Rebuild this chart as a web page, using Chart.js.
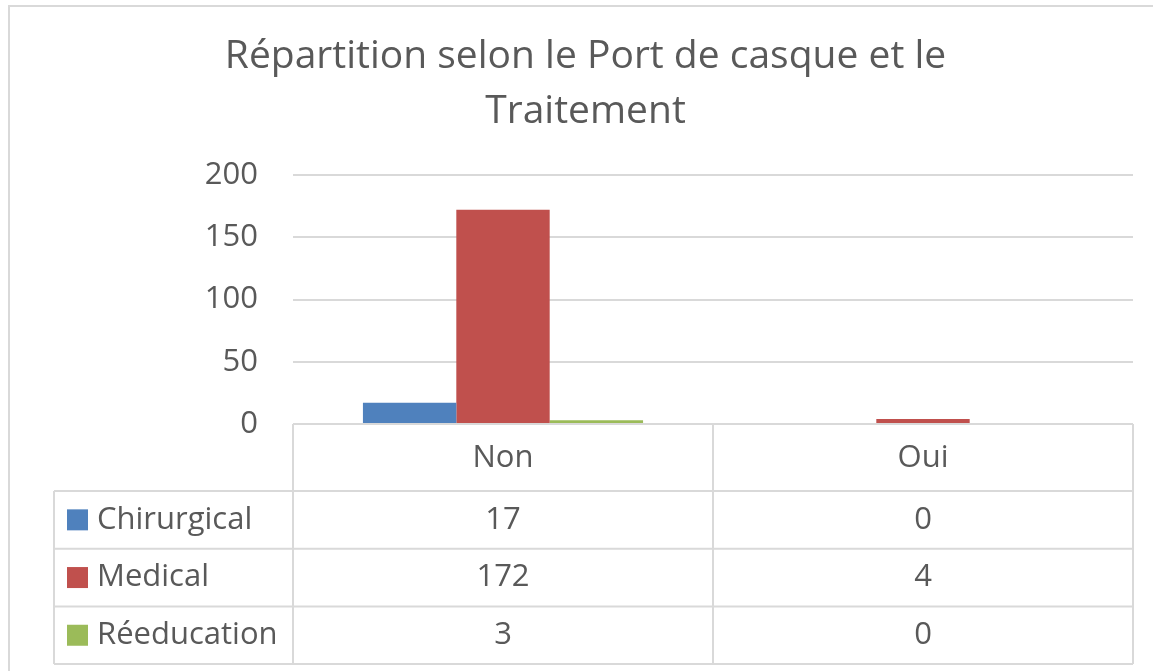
<!DOCTYPE html>
<html lang="fr">
<head>
<meta charset="utf-8">
<title>Répartition selon le Port de casque et le Traitement</title>
<script src="https://cdn.jsdelivr.net/npm/chart.js@4.4.0/dist/chart.umd.min.js"></script>
<style>
    html, body { margin: 0; padding: 0; background: #ffffff; }
    #wrap { width: 1153px; height: 671px; position: relative; }
</style>
</head>
<body>
<div id="wrap"><canvas id="chart"></canvas></div>
<script>
// Chart data
const titleLines = ['Répartition selon le Port de casque et le', 'Traitement'];
const categories = ['Non', 'Oui'];
const seriesNames = ['Chirurgical', 'Medical', 'Réeducation'];
const chirurgicalValues = [17, 0];
const medicalValues = [172, 4];
const reeducationValues = [3, 0];
const yTicks = [0, 50, 100, 150, 200];

const seriesColors = ['#4F81BD', '#C0504D', '#9BBB59'];
const textColor = '#595959';
const lineColor = '#d9d9d9';
const fontFamily = '"Open Sans", "DejaVu Sans", sans-serif';

// Draws the outer frame of the chart
const framePlugin = {
    id: 'frame',
    beforeDraw(chart) {
        const ctx = chart.ctx;
        ctx.save();
        ctx.strokeStyle = lineColor;
        ctx.lineWidth = 2;
        ctx.strokeRect(9, 6, chart.width + 20, chart.height + 20);
        ctx.restore();
    }
};

// Draws the data table under the plot (Excel style)
const dataTablePlugin = {
    id: 'dataTable',
    afterDraw(chart) {
        const ctx = chart.ctx;
        const area = chart.chartArea;
        const xScale = chart.scales.x;
        const colWidth = (area.right - area.left) / categories.length;
        const headerBottom = area.bottom + 67;
        const rowHeight = 57.7;
        const tableBottom = headerBottom + rowHeight * seriesNames.length;
        const tableLeft = 54;

        ctx.save();
        ctx.strokeStyle = lineColor;
        ctx.lineWidth = 2;
        ctx.beginPath();
        // header top line (axis line)
        ctx.moveTo(area.left, area.bottom);
        ctx.lineTo(area.right, area.bottom);
        // header left line
        ctx.moveTo(area.left, area.bottom);
        ctx.lineTo(area.left, tableBottom);
        // column dividers and right edge
        for (let i = 1; i <= categories.length; i++) {
            const x = area.left + colWidth * i;
            ctx.moveTo(x, area.bottom);
            ctx.lineTo(x, tableBottom);
        }
        // row lines
        for (let r = 0; r <= seriesNames.length; r++) {
            const y = headerBottom + rowHeight * r;
            ctx.moveTo(tableLeft, y);
            ctx.lineTo(area.right, y);
        }
        // left edge of series rows
        ctx.moveTo(tableLeft, headerBottom);
        ctx.lineTo(tableLeft, tableBottom);
        ctx.stroke();

        ctx.fillStyle = textColor;
        ctx.font = '31px ' + fontFamily;
        ctx.textBaseline = 'middle';
        ctx.textAlign = 'center';

        // header labels
        categories.forEach((cat, i) => {
            ctx.fillText(cat, xScale.getPixelForValue(i), area.bottom + 34);
        });

        // series rows
        chart.data.datasets.forEach((ds, r) => {
            const yMid = headerBottom + rowHeight * r + rowHeight / 2;
            ctx.fillStyle = ds.backgroundColor;
            ctx.fillRect(67, yMid - 10.5, 21, 21);
            ctx.fillStyle = textColor;
            ctx.textAlign = 'left';
            ctx.fillText(ds.label, 97, yMid);
            ctx.textAlign = 'center';
            ds.data.forEach((v, i) => {
                ctx.fillText(String(v), xScale.getPixelForValue(i), yMid);
            });
        });
        ctx.restore();
    }
};

const seriesValues = [chirurgicalValues, medicalValues, reeducationValues];

const ctx = document.getElementById('chart').getContext('2d');
new Chart(ctx, {
    type: 'bar',
    data: {
        labels: categories,
        datasets: seriesNames.map((name, i) => ({
            label: name,
            data: seriesValues[i],
            backgroundColor: seriesColors[i],
            borderWidth: 0,
            categoryPercentage: 0.667,
            barPercentage: 1.0
        }))
    },
    options: {
        responsive: true,
        maintainAspectRatio: false,
        animation: false,
        devicePixelRatio: 1,
        layout: {
            padding: { left: 38, right: 20, top: 0, bottom: 247 }
        },
        plugins: {
            legend: { display: false },
            tooltip: { enabled: false },
            title: {
                display: true,
                text: titleLines,
                color: textColor,
                font: { family: fontFamily, size: 39, weight: 'normal', lineHeight: 55 / 39 },
                padding: { top: 29, bottom: 36 }
            }
        },
        scales: {
            x: {
                display: false,
                offset: true,
                grid: { display: false }
            },
            y: {
                min: 0,
                max: 200,
                afterFit(scale) { scale.width = 255; },
                afterBuildTicks(scale) {
                    scale.ticks = yTicks.map(v => ({ value: v }));
                },
                border: { display: false },
                grid: {
                    color: lineColor,
                    lineWidth: 2,
                    drawTicks: false
                },
                ticks: {
                    padding: 35,
                    color: textColor,
                    font: { family: fontFamily, size: 31 }
                }
            }
        }
    },
    plugins: [framePlugin, dataTablePlugin]
});
</script>
</body>
</html>
